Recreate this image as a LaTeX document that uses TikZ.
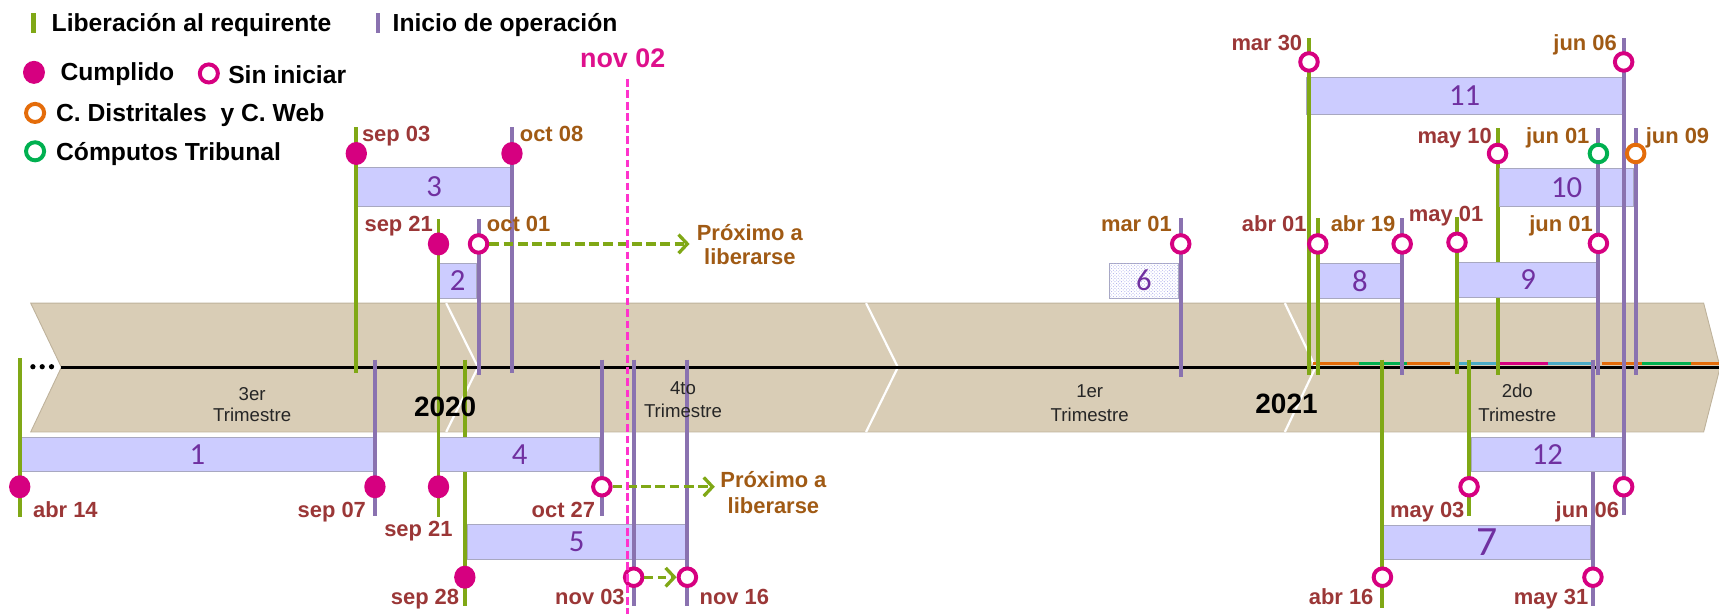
\documentclass[tikz,border=0pt]{standalone}
\usepackage{fontspec}
\setmainfont{Liberation Sans}
\newfontfamily\numfont{Carlito}
\usetikzlibrary{arrows.meta,shapes.geometric,patterns}
\definecolor{tanband}{RGB}{217,205,182}
\definecolor{tanedge}{RGB}{190,178,155}
\definecolor{barfill}{RGB}{204,204,255}
\definecolor{baredge}{RGB}{168,168,192}
\definecolor{lgreen}{RGB}{128,168,22}
\definecolor{lpurple}{RGB}{138,114,176}
\definecolor{mag}{RGB}{214,0,128}
\definecolor{corange}{RGB}{228,108,10}
\definecolor{cgreen}{RGB}{0,176,80}
\definecolor{cblue}{RGB}{75,172,198}
\definecolor{labred}{RGB}{155,55,55}
\definecolor{laborg}{RGB}{160,90,20}
\definecolor{pinkd}{RGB}{255,51,204}
\definecolor{novc}{RGB}{222,16,140}
\definecolor{numpurple}{RGB}{112,48,160}
\definecolor{hatch}{RGB}{170,170,235}
\tikzset{
 gline/.style={lgreen, line width=3.6pt},
 pline/.style={lpurple, line width=3.6pt},
 barbox/.style={draw=baredge, line width=0.8pt, fill=barfill, inner sep=0pt, outer sep=0pt, anchor=north west, text=numpurple, font=\numfont\fontsize{28}{28}\selectfont},
 filledc/.style={ellipse, fill=mag, minimum width=19.5pt, minimum height=21pt, inner sep=0pt},
 openc/.style={circle, draw=#1, line width=3.6pt, fill=white, minimum size=16pt, inner sep=0pt},
 openc/.default=mag,
 datelab/.style={font=\bfseries\fontsize{20}{20}\selectfont, inner sep=0pt},
 lr/.style={datelab, text=labred},
 lo/.style={datelab, text=laborg},
 legtxt/.style={font=\bfseries\fontsize{22.5}{22.5}\selectfont, inner sep=0pt, anchor=base west},
 qlab/.style={font=\fontsize{17}{17}\selectfont, text=black!85, inner sep=0pt, anchor=base},
 yearlab/.style={font=\bfseries\fontsize{25.5}{25.5}\selectfont, inner sep=0pt, anchor=base},
 nextarrow/.style={lgreen, line width=3pt, dash pattern=on 9pt off 4pt, -{Straight Barb[length=8pt,width=17pt]}},
 nexttxt/.style={text=laborg, font=\bfseries\fontsize{20}{20}\selectfont, inner sep=0pt, anchor=base},
}
\newcommand\barnode[7][]{\node[barbox,minimum width={#5pt-#3pt},minimum height={#6pt-#4pt},#1] (#2) at (#3,#4) {#7};}
\newcommand\vtick[4]{\draw[#1] (#2,#3) -- (#2,#4);}
\begin{document}
\begin{tikzpicture}[x=1pt,y=-1pt]
\useasboundingbox (0,0) rectangle (1568,560);
% band
\filldraw[fill=tanband, draw=tanedge, line width=0.8pt] (28,276.5) -- (1554,276.5) -- (1569,335) -- (1554,394) -- (28,394) -- (56,335) -- cycle;
\draw[white, line width=2pt] (407,276.5) -- (436,335) -- (407,394);
\draw[white, line width=2pt] (790,276.5) -- (819,335) -- (790,394);
\draw[white, line width=2pt] (1172,276.5) -- (1200,335) -- (1172,394);
% axis
\draw[black, line width=2.4pt] (56,335) -- (1568,335);
\foreach \xx in {30,38.5,47} \fill (\xx,334.5) circle (2.4pt);
\foreach \aa/\bb/\cc in {1198/1240/corange,1240/1283/cgreen,1283/1323/corange,1330/1368/cblue,1368/1412/mag,1412/1453/cblue,1461/1498/corange,1498/1542/cgreen,1542/1568/corange}
  \draw[\cc, line width=2.3pt] (\aa,331.8) -- (\bb,331.8);
% lines hidden behind bars
\vtick{gline}{424}{328}{553}
\vtick{gline}{1366}{117}{342}
\vtick{pline}{1453}{328}{553}
% bars
\barnode{b1}{18}{399}{342}{430}{1}
\barnode{b2}{400}{240}{435}{272}{2}
\barnode{b3}{326}{153}{466}{188}{3}
\barnode{b4}{401}{399}{547}{430}{4}
\barnode{b5}{426}{478}{626}{510}{5}
\barnode[fill=white, postaction={pattern=crosshatch dots, pattern color=hatch}]{b6}{1012}{240}{1075}{272}{6}
\barnode[font=\numfont\fontsize{38}{38}\selectfont]{b7}{1262}{479}{1451}{510}{7}
\barnode{b8}{1203}{240}{1278}{272}{8}
\barnode{b9}{1330}{239}{1458}{271}{9}
\barnode{b10}{1368}{154}{1490}{188}{10}
\barnode{b11}{1192}{71}{1480}{104}{11}
\barnode{b12}{1342}{399}{1481}{430}{12}
% lines over bars
\vtick{gline}{18}{327}{472}
\vtick{pline}{342}{328}{471}
\vtick{gline}{325}{116}{340}
\vtick{pline}{467}{116}{340}
\vtick{gline}{400}{200}{472}
\vtick{pline}{436.5}{200}{342}
\vtick{pline}{549}{328}{471}
\vtick{pline}{578}{328}{553}
\vtick{pline}{627}{328}{553}
\vtick{pline}{1077}{199}{344}
\vtick{gline}{1194}{35}{342}
\vtick{pline}{1481}{35}{470}
\vtick{pline}{1458}{117}{342}
\vtick{pline}{1492}{117}{342}
\vtick{gline}{1202}{199}{342}
\vtick{pline}{1279}{199}{342}
\vtick{gline}{1329}{198}{341}
\vtick{gline}{1340}{328}{471}
\vtick{gline}{1261}{328}{555}
% circles
\node[filledc] (c-sep03) at (325,140) {};
\node[filledc] (c-oct08) at (467,140) {};
\node[filledc] (c-sep21a) at (400,222.5) {};
\node[filledc] (c-sep21b) at (400,444) {};
\node[filledc] (c-abr14) at (18,444) {};
\node[filledc] (c-sep07) at (342,444) {};
\node[filledc] (c-sep28) at (424,526.5) {};
\node[openc] (c-oct01) at (436.5,222.5) {};
\node[openc] (c-oct27) at (549,444) {};
\node[openc] (c-nov03) at (578,526.5) {};
\node[openc] (c-nov16) at (627,526.5) {};
\node[openc] (c-mar01) at (1077,222.5) {};
\node[openc] (c-mar30) at (1194,56.5) {};
\node[openc] (c-jun06a) at (1481,56.5) {};
\node[openc] (c-jun06b) at (1481,444) {};
\node[openc] (c-may10) at (1366,140) {};
\node[openc=cgreen] (c-jun01a) at (1458,140) {};
\node[openc=corange] (c-jun09) at (1492,140) {};
\node[openc] (c-jun01b) at (1458,222) {};
\node[openc] (c-abr01) at (1202,222.5) {};
\node[openc] (c-abr19) at (1279,222.5) {};
\node[openc] (c-may01) at (1329,221) {};
\node[openc] (c-may03) at (1340,444) {};
\node[openc] (c-abr16) at (1261,526.5) {};
\node[openc] (c-may31) at (1453,526.5) {};
% date labels
\node[lr, anchor=base west] (t-sep03) at (330,129.5) {sep 03};
\node[lo, anchor=base west] (t-oct08) at (474,129.5) {oct 08};
\node[lr, anchor=base east] (t-sep21a) at (395,211) {sep 21};
\node[lo, anchor=base west] (t-oct01) at (444,211) {oct 01};
\node[lr, anchor=base west] (t-abr14) at (30,472) {abr 14};
\node[lr, anchor=base east] (t-sep07) at (334,472) {sep 07};
\node[lr, anchor=base east] (t-sep21b) at (413,489.5) {sep 21};
\node[lr, anchor=base east] (t-oct27) at (543,472) {oct 27};
\node[lr, anchor=base east] (t-sep28) at (419,551.5) {sep 28};
\node[lr, anchor=base east] (t-nov03) at (570,551.5) {nov 03};
\node[lr, anchor=base west] (t-nov16) at (638,551.5) {nov 16};
\node[lo, anchor=base east] (t-mar01) at (1069,211.5) {mar 01};
\node[lr, anchor=base east] (t-mar30) at (1188,46) {mar 30};
\node[lo, anchor=base east] (t-jun06a) at (1475,46) {jun 06};
\node[lr, anchor=base east] (t-may10) at (1361,130.5) {may 10};
\node[lo, anchor=base east] (t-jun01a) at (1450,130.5) {jun 01};
\node[lo, anchor=base west] (t-jun09) at (1501,130.5) {jun 09};
\node[lr, anchor=base east] (t-abr01) at (1192,211) {abr 01};
\node[lo, anchor=base east] (t-abr19) at (1273,211) {abr 19};
\node[lr, anchor=base west] (t-may01) at (1285,202) {may 01};
\node[lo, anchor=base east] (t-jun01b) at (1453,211) {jun 01};
\node[lr, anchor=base east] (t-may03) at (1336,472) {may 03};
\node[lr, anchor=base east] (t-jun06b) at (1477,472) {jun 06};
\node[lr, anchor=base east] (t-abr16) at (1253,551.5) {abr 16};
\node[lr, anchor=base east] (t-may31) at (1449,551.5) {may 31};
% next-to-release arrows
\node[nexttxt] (nx1a) at (684,219) {Próximo a};
\node[nexttxt] (nx1b) at (684,241.5) {liberarse};
\node[nexttxt] (nx2a) at (705.5,445) {Próximo a};
\node[nexttxt] (nx2b) at (705.5,468) {liberarse};
\coordinate (a1tip) at (629,222.5);
\coordinate (a2tip) at (652,444);
\draw[nextarrow] (c-oct01) -- (a1tip);
\draw[nextarrow] (c-oct27) -- (a2tip);
\draw[nextarrow, dash pattern=on 8pt off 4pt] (c-nov03) -- (c-nov16);
% today line
\node[font=\bfseries\fontsize{24.5}{24.5}\selectfont, text=novc, inner sep=0pt, anchor=base west] (nov02) at (529,62) {nov 02};
\coordinate (todaytop) at (572.5,72);
\coordinate (todaybot) at (572.5,560);
\draw[pinkd, line width=2.7pt, dash pattern=on 7pt off 3.5pt] (todaytop) -- (todaybot);
% quarter and year labels
\node[qlab] (q3a) at (230,365) {3er};
\node[qlab] (q3b) at (230,384.6) {Trimestre};
\node[qlab] (q4a) at (623,360) {4to};
\node[qlab] (q4b) at (623,381) {Trimestre};
\node[qlab] (q1a) at (994,363) {1er};
\node[qlab] (q1b) at (994,384.6) {Trimestre};
\node[qlab] (q2a) at (1384,363) {2do};
\node[qlab] (q2b) at (1384,384.6) {Trimestre};
\node[yearlab] (y2020) at (406,380) {2020};
\node[yearlab] (y2021) at (1173.5,377) {2021};
% legend
\vtick{gline, line width=4pt}{30.5}{12}{30.5}
\node[legtxt] (lg1) at (47,29) {Liberación al requirente};
\vtick{pline, line width=4pt}{345}{12}{30.5}
\node[legtxt] (lg2) at (358,29) {Inicio de operación};
\node[filledc, minimum width=20pt] (lc1) at (31,66) {};
\node[legtxt] (lg3) at (55,73) {Cumplido};
\node[openc, minimum size=16.5pt] (lc2) at (190.5,67) {};
\node[legtxt] (lg4) at (208,76) {Sin iniciar};
\node[openc=corange, minimum size=16.5pt] (lc3) at (32,103) {};
\node[legtxt] (lg5) at (51,111) {C. Distritales\ \ y C. Web};
\node[openc=cgreen, minimum size=16.5pt] (lc4) at (32,138) {};
\node[legtxt] (lg6) at (51,146) {Cómputos Tribunal};
\end{tikzpicture}
\end{document}
